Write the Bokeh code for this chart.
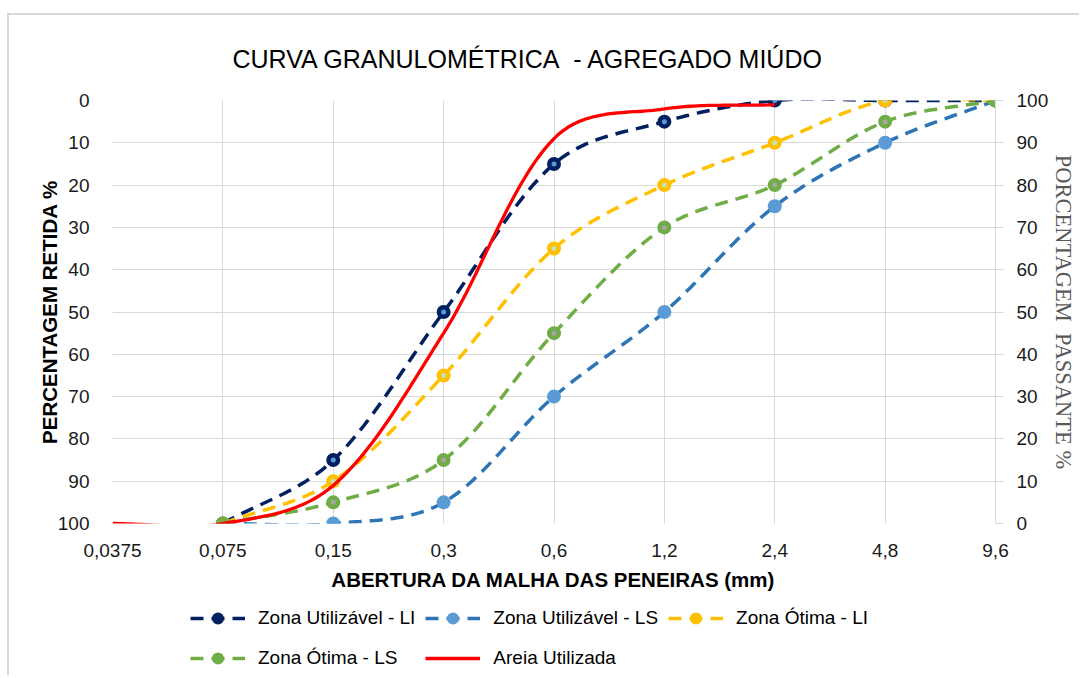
import math
import numpy as np
from bokeh.plotting import figure
from bokeh.layouts import column
from bokeh.models import Range1d, LinearAxis, FixedTicker, Legend, LegendItem
from bokeh.embed import file_html
from bokeh.resources import INLINE

# ---------------- data ----------------
sieves = ["0,0375", "0,075", "0,15", "0,3", "0,6", "1,2", "2,4", "4,8", "9,6"]
zona_util_li = [None, 100, 85, 50, 15, 5, 0, 0, 0]
zona_util_ls = [None, 100, 100, 95, 70, 50, 25, 10, 0]
zona_otima_li = [None, 100, 90, 65, 35, 20, 10, 0, 0]
zona_otima_ls = [None, 100, 95, 85, 55, 30, 20, 5, 0]
areia_utilizada = [100, 100, 91, 55, 9, 2, 1, None, None]
pct_ticks = list(range(0, 101, 10))

SANS = "Liberation Sans"
SERIF = "Liberation Serif"
GRID = "#D9D9D9"
TXT = "#1a1a1a"

# frame geometry (used only for the smoothing aspect ratio)
PX_PER_X = 886 / 8.0
PX_PER_Y = 423 / 100.0


def smooth(values, n=30):
    """Excel-like smoothed line: cubic Bezier, centripetal-weighted tangents (screen space)."""
    pts = [(i * PX_PER_X, v * PX_PER_Y) for i, v in enumerate(values) if v is not None]
    m = len(pts)

    def dist(a, b):
        return math.sqrt(math.hypot(b[0] - a[0], b[1] - a[1]))

    ctrl_out, ctrl_in = [], []
    for i in range(m):
        p0 = pts[i - 1] if i > 0 else pts[i]
        p1 = pts[i]
        p2 = pts[i + 1] if i + 1 < m else pts[i]
        d01, d12 = dist(p0, p1), dist(p1, p2)
        tot = d01 + d12 if d01 + d12 > 0 else 1.0
        tx, ty = p2[0] - p0[0], p2[1] - p0[1]
        ctrl_out.append((p1[0] + tx * d12 / tot / 3, p1[1] + ty * d12 / tot / 3))
        ctrl_in.append((p1[0] - tx * d01 / tot / 3, p1[1] - ty * d01 / tot / 3))
    xs, ys = [], []
    for i in range(m - 1):
        b0, b1, b2, b3 = pts[i], ctrl_out[i], ctrl_in[i + 1], pts[i + 1]
        for t in np.linspace(0, 1, n, endpoint=False):
            u = 1 - t
            c = (u ** 3, 3 * u * u * t, 3 * u * t * t, t ** 3)
            xs.append(sum(cc * b[0] for cc, b in zip(c, (b0, b1, b2, b3))) / PX_PER_X)
            ys.append(sum(cc * b[1] for cc, b in zip(c, (b0, b1, b2, b3))) / PX_PER_Y)
    xs.append(pts[-1][0] / PX_PER_X)
    ys.append(pts[-1][1] / PX_PER_Y)
    return xs, ys


def points(values):
    idx = [i for i, v in enumerate(values) if v is not None]
    return idx, [values[i] for i in idx]


p = figure(width=1070, height=588, output_backend="svg", toolbar_location=None,
           x_range=Range1d(0, len(sieves) - 1), y_range=Range1d(100, 0),
           min_border_left=103, min_border_right=81, min_border_top=85, min_border_bottom=80,
           background_fill_color="white", border_fill_color="white")
p.outline_line_color = None

# title
p.title.text = "CURVA GRANULOMÉTRICA\u00a0 - AGREGADO MIÚDO"
p.title.text_font = SANS
p.title.text_font_size = "25px"
p.title.text_font_style = "normal"
p.title.text_color = "black"
p.title.align = "left"
p.title.offset = 120
p.title.standoff = 55

# x axis
xa = p.xaxis[0]
xa.ticker = FixedTicker(ticks=list(range(len(sieves))))
xa.major_label_overrides = {i: s for i, s in enumerate(sieves)}
xa.axis_line_color = None
xa.major_tick_line_color = None
xa.minor_tick_line_color = None
xa.major_label_standoff = 14
xa.major_label_text_font = SANS
xa.major_label_text_font_size = "19px"
xa.major_label_text_color = TXT
xa.axis_label = "ABERTURA DA MALHA DAS PENEIRAS (mm)"
xa.axis_label_text_font = SANS
xa.axis_label_text_font_size = "20.5px"
xa.axis_label_text_font_style = "bold"
xa.axis_label_text_color = "black"
xa.axis_label_standoff = 8

# left axis (retida)
ya = p.yaxis[0]
ya.ticker = FixedTicker(ticks=pct_ticks)
ya.axis_line_color = None
ya.major_tick_line_color = None
ya.minor_tick_line_color = None
ya.major_label_standoff = 17
ya.major_label_text_font = SANS
ya.major_label_text_font_size = "19px"
ya.major_label_text_color = TXT
ya.axis_label = "PERCENTAGEM RETIDA %"
ya.axis_label_text_font = SANS
ya.axis_label_text_font_size = "20.5px"
ya.axis_label_text_font_style = "bold"
ya.axis_label_text_color = "black"
ya.axis_label_standoff = -6

# right axis (passante)
p.extra_y_ranges = {"passante": Range1d(0, 100)}
ra = LinearAxis(y_range_name="passante", ticker=FixedTicker(ticks=pct_ticks))
ra.axis_line_color = GRID
ra.major_tick_line_color = GRID
ra.major_tick_in = 0
ra.major_tick_out = 8
ra.minor_tick_line_color = None
ra.major_label_standoff = 13
ra.major_label_text_font = SANS
ra.major_label_text_font_size = "19px"
ra.major_label_text_color = TXT
ra.axis_label = "PORCENTAGEM\u00a0 PASSANTE %"
ra.axis_label_text_font = SERIF
ra.axis_label_text_font_size = "22.5px"
ra.axis_label_text_font_style = "normal"
ra.axis_label_text_color = "#595959"
ra.axis_label_standoff = 0
p.add_layout(ra, "right")

# grids
p.xgrid.ticker = FixedTicker(ticks=list(range(1, len(sieves))))
p.xgrid.grid_line_color = GRID
p.ygrid.grid_line_color = GRID
p.ygrid.ticker = FixedTicker(ticks=pct_ticks)

series = [
    ("Zona Utilizável - LI", zona_util_li, "#002060", "#002060", "#5B9BD5"),
    ("Zona Utilizável - LS", zona_util_ls, "#2E75B6", "#5B9BD5", "#5B9BD5"),
    ("Zona Ótima - LI", zona_otima_li, "#FFC000", "#FFC000", "#C5E0B4"),
    ("Zona Ótima - LS", zona_otima_ls, "#70AD47", "#70AD47", "#A5A5A5"),
]

# legend lives in its own strip under the chart (its renderers hold no visible data)
leg = figure(width=1070, height=72, output_backend="svg", toolbar_location=None,
             x_range=Range1d(0, 1), y_range=Range1d(0, 1), min_border=0,
             x_axis_location=None, y_axis_location=None,
             background_fill_color="white", border_fill_color="white")
leg.grid.visible = False
leg.outline_line_color = None
NO_DATA = dict(x=[float("nan")], y=[float("nan")])

items = []
for name, vals, lc, mc, sc in series:
    sx, sy = smooth(vals)
    p.line(sx, sy, line_color=lc, line_width=3.5, line_dash="13 8")
    px, py = points(vals)
    p.scatter(px, py, marker="circle", size=14, fill_color=mc, line_color=None)
    p.scatter(px, py, marker="circle", size=5, fill_color=sc, line_color=None)
    l1 = leg.line(line_color=lc, line_width=3.5, line_dash="13 8", **NO_DATA)
    l2 = leg.scatter(marker="circle", size=14, fill_color=mc, line_color=None, **NO_DATA)
    items.append(LegendItem(label=name, renderers=[l1, l2]))

ax, ay = smooth(areia_utilizada)
p.line(ax, ay, line_color="#FF0000", line_width=3.3)
l4 = leg.line(line_color="#FF0000", line_width=3.3, **NO_DATA)
items.append(LegendItem(label="Areia Utilizada", renderers=[l4]))

legend = Legend(items=items, location=(78, 2), orientation="horizontal", ncols=3,
                glyph_width=55, glyph_height=30, label_height=30, label_standoff=13,
                spacing=10, padding=0, margin=0, border_line_color=None,
                background_fill_alpha=0, label_text_font=SANS,
                label_text_font_size="19px", label_text_color="black")
leg.add_layout(legend)

layout = column(p, leg, spacing=0)
layout.styles = {"border-left": "2px solid #D9D9D9", "border-top": "2px solid #D9D9D9",
                 "margin-top": "13px", "margin-left": "7px"}

open("out.html", "w").write(file_html(layout, INLINE))
